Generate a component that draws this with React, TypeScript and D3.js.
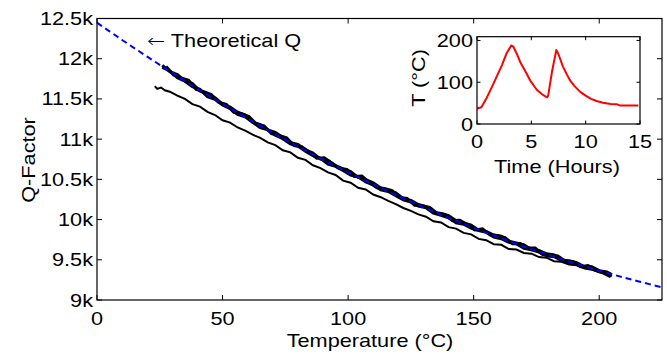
import React from 'react';
import * as d3 from 'd3';

// Theoretical Q (blue dashed)
const theoT = [0,5,10,15,20,25,30,35,40,45,50,55,60,65,70,75,80,85,90,95,100,105,110,115,120,125,130,135,140,145,150,155,160,165,170,175,180,185,190,195,200,205,210,215,220,225];
const theoQ = [12448,12340,12233,12129,12025,11924,11824,11725,11628,11533,11439,11347,11256,11167,11080,10994,10910,10827,10746,10667,10589,10513,10438,10365,10293,10223,10155,10088,10023,9959,9898,9837,9778,9721,9666,9612,9559,9508,9459,9411,9365,9321,9278,9237,9197,9158];

// Measured runs on top of the theory (thick band)
const bandT = [26,29,32,35,38,41,44,47,50,53,56,59,62,65,68,71,74,77,80,83,86,89,92,95,98,101,104,107,110,113,116,119,122,125,128,131,134,137,140,143,146,149,152,155,158,161,164,167,170,173,176,179,182,185,188,191,194,197,200,203,205];
const runAQ = [11918,11838,11804,11725,11692,11599,11562,11515,11434,11399,11334,11299,11210,11182,11115,11083,11021,10955,10935,10865,10826,10752,10734,10672,10630,10598,10523,10497,10458,10394,10360,10332,10260,10238,10187,10162,10091,10077,10048,9985,9957,9930,9868,9852,9807,9792,9732,9709,9686,9628,9616,9574,9559,9498,9488,9464,9416,9413,9365,9348,9316];
const runBQ = [11893,11848,11764,11720,11652,11619,11527,11495,11424,11379,11309,11279,11210,11142,11115,11048,11006,10940,10915,10850,10796,10762,10689,10662,10610,10553,10533,10467,10433,10369,10350,10297,10245,10218,10167,10147,10081,10052,10023,9960,9942,9895,9863,9842,9782,9762,9717,9699,9641,9623,9596,9549,9539,9493,9468,9444,9401,9383,9350,9333,9296];
const bandT2 = [27.5,30.5,33.5,36.5,39.5,42.5,45.5,48.5,51.5,54.5,57.5,60.5,63.5,66.5,69.5,72.5,75.5,78.5,81.5,84.5,87.5,90.5,93.5,96.5,99.5,102.5,105.5,108.5,111.5,114.5,117.5,120.5,123.5,126.5,129.5,132.5,135.5,138.5,141.5,144.5,147.5,150.5,153.5,156.5,159.5,162.5,165.5,168.5,171.5,174.5,177.5,180.5,183.5,186.5,189.5,192.5,195.5,198.5,201.5,204.5];
const runCQ = [11903,11799,11760,11731,11618,11591,11554,11457,11432,11332,11317,11282,11189,11166,11069,11047,11016,10920,10905,10841,10762,10768,10701,10634,10622,10536,10540,10460,10396,10387,10359,10276,10264,10178,10172,10152,10077,10063,9989,9991,9934,9872,9885,9810,9800,9775,9701,9703,9650,9647,9565,9564,9549,9483,9479,9415,9427,9384,9337,9290];

// Lower measured run
const lowT = [23,24,25.5,27,29,32,35,38,41,44,47,50,53,56,59,62,65,68,71,74,77,80,83,86,89,92,95,98,101,104,107,110,113,116,119,122,125,128,131,134,137,140,143,146,149,152,155,158,161,164,167,170,173,176,179,182,185,188,191,194,197,200,203,205];
const lowQ = [11660,11625,11642,11608,11590,11540,11500,11435,11405,11340,11300,11235,11205,11145,11105,11055,11015,10960,10925,10862,10836,10768,10742,10675,10640,10586,10555,10484,10458,10395,10374,10312,10278,10232,10192,10144,10108,10064,10036,9979,9964,9906,9888,9834,9816,9760,9744,9694,9686,9634,9628,9584,9576,9534,9526,9482,9476,9442,9431,9398,9386,9348,9330,9305];

// Inset: temperature vs time
const timeH = [0,0.4,0.9,1.4,1.8,2.3,2.7,3.15,3.35,3.7,4.0,4.5,4.9,5.5,6.0,6.45,6.55,6.9,7.3,7.5,7.9,8.3,8.6,9.0,9.5,10.0,10.5,11.0,11.6,12.3,12.9,13.2,14.85];
const tempC = [37,40,63,90,113,141,168,188,185,166,147,124,104,82,71,64,68,125,177,167,138,117,103,90,77,68,60,55,51,48,47,44,44];

const yTicks = [9000,9500,10000,10500,11000,11500,12000,12500];
const yTickLabels = ['9k','9.5k','10k','10.5k','11k','11.5k','12k','12.5k'];
const xTicks = [0,50,100,150,200];
const insetXTicks = [0,5,10,15];
const insetYTicks = [0,100,200];

const FONT = "'Liberation Sans', Arial, Helvetica, sans-serif";
const SX = 1.22;

const Txt = ({ x, y, anchor = 'middle', rot = false, size = 17.8, children }: any) => (
  <g transform={`translate(${x},${y})${rot ? ' rotate(-90)' : ''} scale(${SX},1)`}>
    <text textAnchor={anchor} fontSize={size} fontFamily={FONT} fill="#000">{children}</text>
  </g>
);

export default function App() {
  const W = 667, H = 356;
  const L = 97, R = 662, T = 18.5, B = 300;
  const x = d3.scaleLinear().domain([0, 225]).range([L, R]);
  const y = d3.scaleLinear().domain([9000, 12500]).range([B, T]);

  const iL = 477, iR = 640, iT = 36.7, iB = 124;
  const ix = d3.scaleLinear().domain([0, 15]).range([iL, iR]);
  const iy = d3.scaleLinear().domain([0, 209]).range([iB, iT]);

  const line = d3.line<[number, number]>().x(d => x(d[0])).y(d => y(d[1]));
  const iline = d3.line<[number, number]>().x(d => ix(d[0])).y(d => iy(d[1]));

  const theo = line(theoT.map((t, i) => [t, theoQ[i]]));
  const runA = line(bandT.map((t, i) => [t, runAQ[i]]));
  const runB = line(bandT.map((t, i) => [t, runBQ[i]]));
  const runC = line(bandT2.map((t, i) => [t, runCQ[i]]));
  const low = line(lowT.map((t, i) => [t, lowQ[i]]));
  const temp = iline(timeH.map((t, i) => [t, tempC[i]]));

  const tk = 5;
  const itk = 3.5;

  return (
    <svg width={W} height={H} style={{ position: 'absolute', left: 0, top: 0, background: '#fff' }}>
      <rect x={0} y={0} width={W} height={H} fill="#fff" />
      <defs>
        <clipPath id="mainclip"><rect x={L} y={T} width={R - L} height={B - T} /></clipPath>
      </defs>
      {/* data */}
      <g clipPath="url(#mainclip)" fill="none" strokeLinejoin="miter">
        <path d={low!} stroke="#000" strokeWidth={2} />
        <path d={runB!} stroke="#000" strokeWidth={3} />
        <path d={runC!} stroke="#000" strokeWidth={3} />
        <path d={runA!} stroke="#000" strokeWidth={3} />
        <path d={theo!} stroke="#0000ff" strokeWidth={2} strokeDasharray="6,4" />
      </g>
      {/* main axes box */}
      <rect x={L} y={T} width={R - L} height={B - T} fill="none" stroke="#000" strokeWidth={1.2} />
      {xTicks.map(v => (
        <g key={'xt' + v}>
          <line x1={x(v)} x2={x(v)} y1={B} y2={B - tk} stroke="#000" strokeWidth={1} />
          <line x1={x(v)} x2={x(v)} y1={T} y2={T + tk} stroke="#000" strokeWidth={1} />
          <Txt x={x(v)} y={324.5}>{String(v)}</Txt>
        </g>
      ))}
      {yTicks.map((v, i) => (
        <g key={'yt' + v}>
          <line x1={L} x2={L + tk} y1={y(v)} y2={y(v)} stroke="#000" strokeWidth={1} />
          <line x1={R} x2={R - tk} y1={y(v)} y2={y(v)} stroke="#000" strokeWidth={1} />
          <Txt x={93} y={y(v) + 6.5} anchor="end">{yTickLabels[i]}</Txt>
        </g>
      ))}
      <Txt x={370} y={347}>Temperature (°C)</Txt>
      <Txt x={35} y={160} rot>Q-Factor</Txt>
      <g transform={`translate(147,47) scale(${SX},1)`}>
        <text textAnchor="start" fontSize={17.8} fontFamily={FONT} fill="#000">
          <tspan fontFamily="'DejaVu Sans', sans-serif" fontWeight={300}>←</tspan> Theoretical Q
        </text>
      </g>

      {/* inset */}
      <rect x={iL} y={iT} width={iR - iL} height={iB - iT} fill="#fff" />
      <path d={temp!} fill="none" stroke="#ff0000" strokeWidth={2} strokeLinejoin="round" />
      <rect x={iL} y={iT} width={iR - iL} height={iB - iT} fill="none" stroke="#000" strokeWidth={1.2} />
      {insetXTicks.map(v => (
        <g key={'ixt' + v}>
          <line x1={ix(v)} x2={ix(v)} y1={iB} y2={iB - itk} stroke="#000" strokeWidth={1} />
          <line x1={ix(v)} x2={ix(v)} y1={iT} y2={iT + itk} stroke="#000" strokeWidth={1} />
          <Txt x={ix(v)} y={147.5}>{String(v)}</Txt>
        </g>
      ))}
      {insetYTicks.map(v => (
        <g key={'iyt' + v}>
          <line x1={iL} x2={iL + itk} y1={iy(v)} y2={iy(v)} stroke="#000" strokeWidth={1} />
          <line x1={iR} x2={iR - itk} y1={iy(v)} y2={iy(v)} stroke="#000" strokeWidth={1} />
          <Txt x={473} y={iy(v) + 6.5} anchor="end">{String(v)}</Txt>
        </g>
      ))}
      <Txt x={557} y={173}>Time (Hours)</Txt>
      <Txt x={425} y={78} rot>T (°C)</Txt>
    </svg>
  );
}
